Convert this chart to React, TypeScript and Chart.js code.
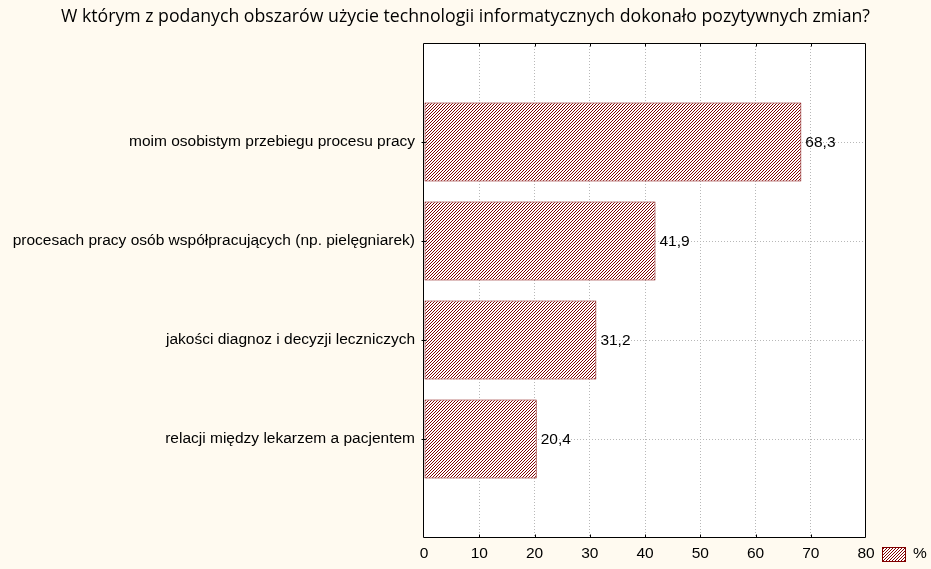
import React, { useEffect, useRef } from "react";
import { Chart, registerables } from "chart.js";

Chart.register(...registerables);

const title = "W którym z podanych obszarów użycie technologii informatycznych dokonało pozytywnych zmian?";
const categories = [
  "moim osobistym przebiegu procesu pracy",
  "procesach pracy osób współpracujących (np. pielęgniarek)",
  "jakości diagnoz i decyzji leczniczych",
  "relacji między lekarzem a pacjentem",
];
const values = [68.3, 41.9, 31.2, 20.4];
const seriesName = "%";
const xMin = 0;
const xMax = 80;
const xStep = 10;

const BG = "#FFFAF0";
const DARK_RED = "#800000";
const GRID = "#b8b8b8";
const FAMILY = "'Liberation Sans', Arial, sans-serif";
const SIZE = 15.5;
const LABEL_FONT = `${SIZE}px ${FAMILY}`;

function makePattern(): CanvasPattern | string {
  const c = document.createElement("canvas");
  const P = 3;
  c.width = P;
  c.height = P;
  const g = c.getContext("2d");
  if (!g) return DARK_RED;
  const img = g.createImageData(P, P);
  for (let y = 0; y < P; y++) {
    for (let x = 0; x < P; x++) {
      const i = (y * P + x) * 4;
      const dark = (x + y) % P === 0;
      img.data[i] = dark ? 128 : 255;
      img.data[i + 1] = dark ? 0 : 255;
      img.data[i + 2] = dark ? 0 : 255;
      img.data[i + 3] = 255;
    }
  }
  g.putImageData(img, 0, 0);
  return g.createPattern(c, "repeat") || DARK_RED;
}

export default function App() {
  const ref = useRef<HTMLCanvasElement | null>(null);

  useEffect(() => {
    document.body.style.margin = "0";
    const canvas = ref.current;
    if (!canvas) return;
    const pattern = makePattern();
    const labels = ["", ...categories, ""];
    const data = [null, ...values, null];

    const decor = {
      id: "decor",
      beforeDraw(chart: any) {
        const { ctx, chartArea: a } = chart;
        ctx.save();
        ctx.fillStyle = BG;
        ctx.fillRect(0, 0, chart.width, chart.height);
        ctx.fillStyle = "#ffffff";
        ctx.fillRect(a.left, a.top, a.right - a.left, a.bottom - a.top);
        ctx.restore();
      },
      afterDatasetsDraw(chart: any) {
        const { ctx, chartArea: a } = chart;
        const xs = chart.scales.x;
        const ys = chart.scales.y;
        ctx.save();
        // value labels
        ctx.font = LABEL_FONT;
        ctx.fillStyle = "#000";
        ctx.textAlign = "left";
        ctx.textBaseline = "middle";
        const meta = chart.getDatasetMeta(0);
        meta.data.forEach((el: any, i: number) => {
          const v = data[i];
          if (v == null) return;
          ctx.fillText(String(v).replace(".", ","), el.x + 4, el.y + 1);
        });
        // frame
        ctx.strokeStyle = "#000";
        ctx.lineWidth = 1;
        const L = Math.round(a.left) - 0.5;
        const R = Math.round(a.right) - 0.5;
        const T = Math.round(a.top) + 0.5;
        const B = Math.round(a.bottom) - 0.5;
        ctx.beginPath();
        ctx.rect(L, T, R - L, B - T);
        ctx.stroke();
        // small tick marks
        ctx.beginPath();
        for (let v = xMin + xStep; v < xMax; v += xStep) {
          const px = Math.round(xs.getPixelForValue(v)) + 0.5;
          ctx.moveTo(px, T);
          ctx.lineTo(px, T + 3);
          ctx.moveTo(px, B);
          ctx.lineTo(px, B - 3);
        }
        for (let i = 1; i <= categories.length; i++) {
          const py = Math.round(ys.getPixelForValue(i)) + 0.5;
          ctx.moveTo(L - 2, py);
          ctx.lineTo(L + 3, py);
        }
        ctx.stroke();
        // title
        ctx.font = "17.7px 'Open Sans', sans-serif";
        ctx.textAlign = "center";
        ctx.textBaseline = "middle";
        ctx.fillStyle = "#000";
        ctx.fillText(title, chart.width / 2, 17);
        // legend
        const bx = Math.round(a.right) + 16;
        const by = 547;
        ctx.fillStyle = pattern as any;
        ctx.fillRect(bx, by, 24, 15);
        ctx.strokeStyle = DARK_RED;
        ctx.strokeRect(bx + 0.5, by + 0.5, 23, 14);
        ctx.fillStyle = "#000";
        ctx.font = LABEL_FONT;
        ctx.textAlign = "left";
        ctx.fillText(seriesName, bx + 31, by + 7);
        ctx.restore();
      },
    };

    const chart = new Chart(canvas, {
      type: "bar",
      data: {
        labels,
        datasets: [
          {
            label: seriesName,
            data,
            backgroundColor: pattern as any,
            borderColor: DARK_RED,
            borderWidth: 1,
            borderSkipped: false,
            categoryPercentage: 1,
            barPercentage: 0.8,
          },
        ],
      },
      options: {
        indexAxis: "y",
        animation: false,
        responsive: false,
        events: [],
        layout: { padding: { top: 43, right: 65, left: 0, bottom: 0 } },
        plugins: {
          legend: { display: false },
          title: { display: false },
          tooltip: { enabled: false },
        },
        scales: {
          x: {
            type: "linear",
            min: xMin,
            max: xMax,
            ticks: {
              stepSize: xStep,
              color: "#000",
              font: { family: FAMILY, size: SIZE },
              padding: 6,
            },
            grid: {
              drawTicks: false,
              color: (c: any) => (c.tick && (c.tick.value === xMin || c.tick.value === xMax) ? "rgba(0,0,0,0)" : GRID),
            },
            border: { display: false, dash: [1, 2] },
            afterFit: (s: any) => {
              s.height = 31;
            },
          },
          y: {
            type: "category",
            offset: false,
            ticks: {
              autoSkip: false,
              color: "#000",
              font: { family: FAMILY, size: SIZE },
              padding: 9,
            },
            grid: {
              offset: false,
              drawTicks: false,
              color: (c: any) => (c.index === 0 || c.index === labels.length - 1 ? "rgba(0,0,0,0)" : GRID),
            },
            border: { display: false, dash: [1, 2] },
            afterFit: (s: any) => {
              s.width = 424;
            },
          },
        },
      },
      plugins: [decor],
    });
    return () => chart.destroy();
  }, []);

  return (
    <div style={{ width: 931, height: 569, background: BG }}>
      <canvas ref={ref} width={931} height={569} style={{ display: "block" }} />
    </div>
  );
}
